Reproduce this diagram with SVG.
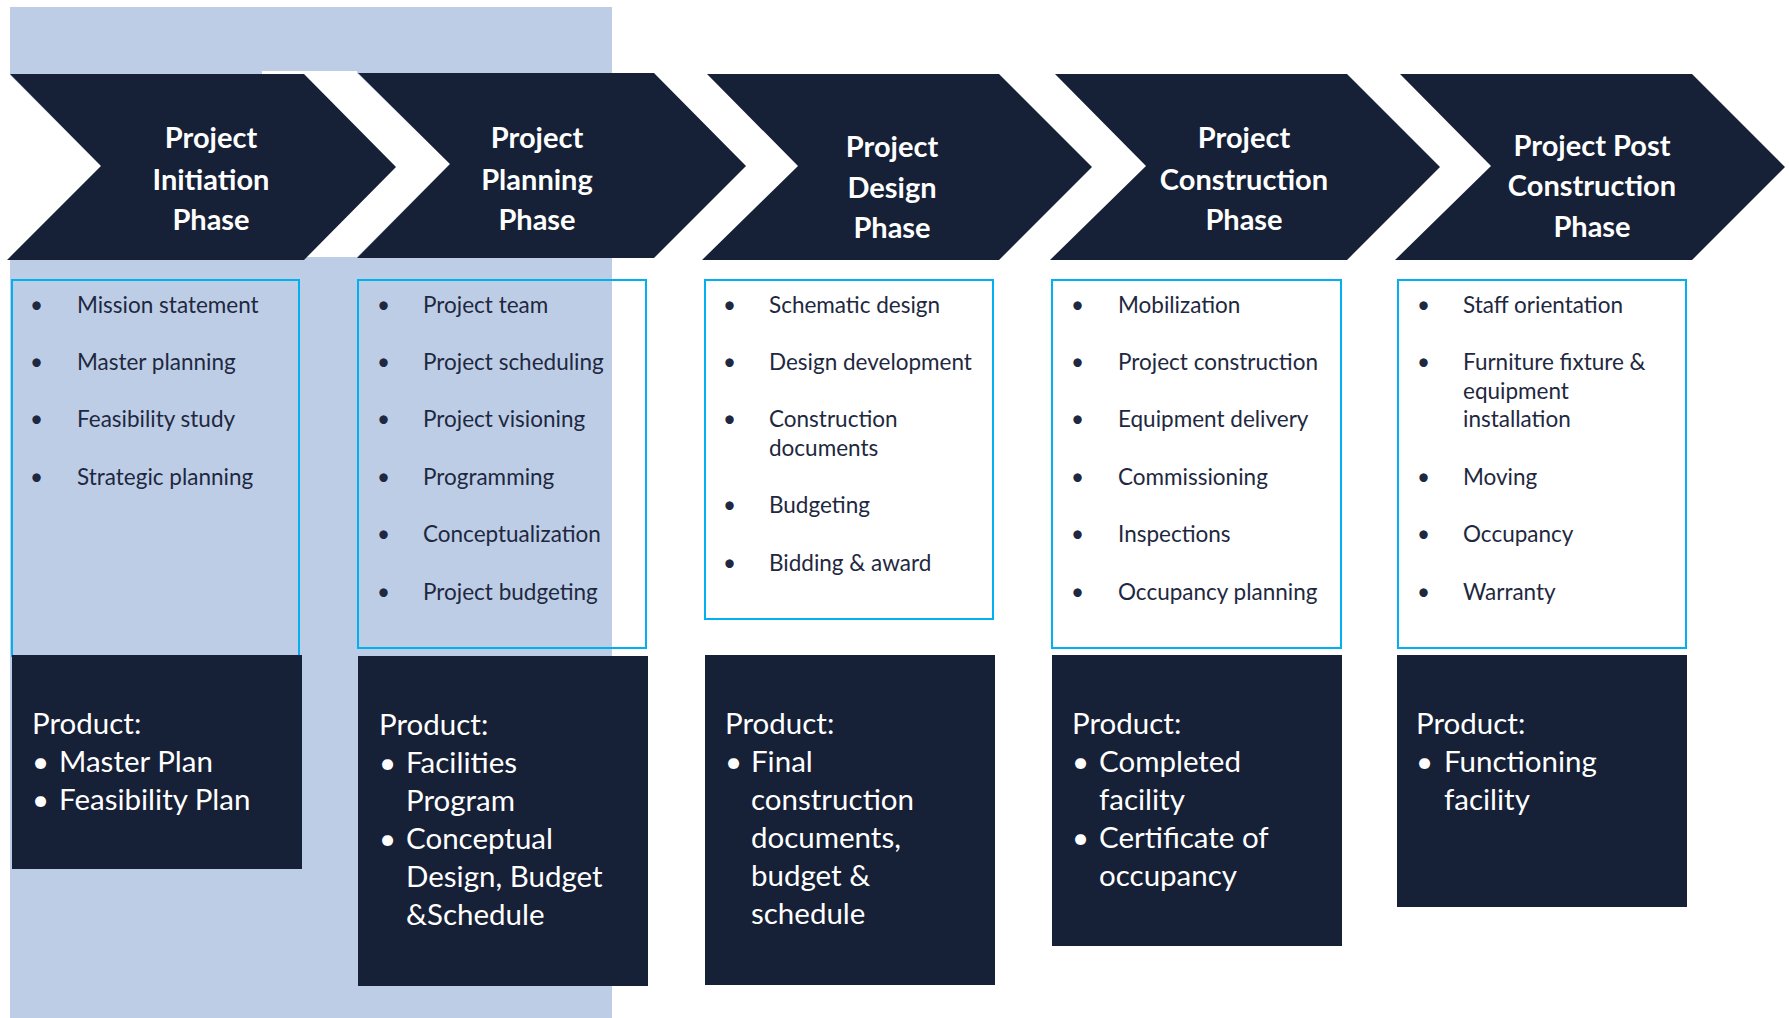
<svg xmlns="http://www.w3.org/2000/svg" width="1789" height="1018" viewBox="0 0 1789 1018">
<style>
.chev{fill:#162036}
.title{font-family:Lato,"Open Sans",sans-serif;font-weight:bold;font-size:29px;fill:#ffffff;text-anchor:middle}
.lbox{fill:none;stroke:#00B0F0;stroke-width:2}
.item{font-family:Lato,"Open Sans",sans-serif;font-size:22.5px;fill:#1E2840}
.pbox{fill:#162036}
.prod{font-family:Lato,"Open Sans",sans-serif;font-size:29.5px;fill:#ffffff}
.gap{fill:#ffffff}
</style>
<rect x="10" y="7" width="602" height="1011" fill="#BDCDE6"/>
<rect class="gap" x="262" y="71" width="95" height="186"/>
<polygon class="gap" points="9,74 101,166 7,260"/>
<polygon class="gap" points="356,72 450,164 356,258"/>
<g id="connectors"></g>

<g id="phase1">
<polygon class="chev" points="10,74 304,74 396,167 304,260 7,260 101,166"/>
<text class="title" x="211" y="148">Project</text>
<text class="title" x="211" y="190">Initiation</text>
<text class="title" x="211" y="230">Phase</text>
</g>
<g id="phase2">
<polygon class="chev" points="358,73 654,73 746,166 654,258 357,258 450,164"/>
<text class="title" x="537" y="148">Project</text>
<text class="title" x="537" y="190">Planning</text>
<text class="title" x="537" y="230">Phase</text>
</g>
<g id="phase3">
<polygon class="chev" points="707,74 999,74 1092,167 999,260 702,260 798,166"/>
<text class="title" x="892" y="157">Project</text>
<text class="title" x="892" y="198">Design</text>
<text class="title" x="892" y="238">Phase</text>
</g>
<g id="phase4">
<polygon class="chev" points="1055,74 1347,74 1440,167 1347,260 1050,260 1146,166"/>
<text class="title" x="1244" y="148">Project</text>
<text class="title" x="1244" y="190">Construction</text>
<text class="title" x="1244" y="230">Phase</text>
</g>
<g id="phase5">
<polygon class="chev" points="1400,74 1692,74 1785,167 1692,260 1395,260 1491,166"/>
<text class="title" x="1592" y="156">Project Post</text>
<text class="title" x="1592" y="196">Construction</text>
<text class="title" x="1592" y="237">Phase</text>
</g>

<g id="tasks1">
<rect class="lbox" x="12" y="280" width="287" height="376"/>
<text class="item" x="30" y="313">•</text><text class="item" x="77" y="313">Mission statement</text>
<text class="item" x="30" y="370">•</text><text class="item" x="77" y="370">Master planning</text>
<text class="item" x="30" y="427">•</text><text class="item" x="77" y="427">Feasibility study</text>
<text class="item" x="30" y="485">•</text><text class="item" x="77" y="485">Strategic planning</text>
</g>
<g id="tasks2">
<rect class="lbox" x="358" y="280" width="288" height="368"/>
<text class="item" x="377" y="313">•</text><text class="item" x="423" y="313">Project team</text>
<text class="item" x="377" y="370">•</text><text class="item" x="423" y="370">Project scheduling</text>
<text class="item" x="377" y="427">•</text><text class="item" x="423" y="427">Project visioning</text>
<text class="item" x="377" y="485">•</text><text class="item" x="423" y="485">Programming</text>
<text class="item" x="377" y="542">•</text><text class="item" x="423" y="542">Conceptualization</text>
<text class="item" x="377" y="600">•</text><text class="item" x="423" y="600">Project budgeting</text>
</g>
<g id="tasks3">
<rect class="lbox" x="705" y="280" width="288" height="339"/>
<text class="item" x="723" y="313">•</text><text class="item" x="769" y="313">Schematic design</text>
<text class="item" x="723" y="370">•</text><text class="item" x="769" y="370">Design development</text>
<text class="item" x="723" y="427">•</text><text class="item" x="769" y="427">Construction</text>
<text class="item" x="769" y="455.5">documents</text>
<text class="item" x="723" y="513">•</text><text class="item" x="769" y="513">Budgeting</text>
<text class="item" x="723" y="571">•</text><text class="item" x="769" y="571">Bidding &amp; award</text>
</g>
<g id="tasks4">
<rect class="lbox" x="1052" y="280" width="289" height="368"/>
<text class="item" x="1071" y="313">•</text><text class="item" x="1118" y="313">Mobilization</text>
<text class="item" x="1071" y="370">•</text><text class="item" x="1118" y="370">Project construction</text>
<text class="item" x="1071" y="427">•</text><text class="item" x="1118" y="427">Equipment delivery</text>
<text class="item" x="1071" y="485">•</text><text class="item" x="1118" y="485">Commissioning</text>
<text class="item" x="1071" y="542">•</text><text class="item" x="1118" y="542">Inspections</text>
<text class="item" x="1071" y="600">•</text><text class="item" x="1118" y="600">Occupancy planning</text>
</g>
<g id="tasks5">
<rect class="lbox" x="1398" y="280" width="288" height="368"/>
<text class="item" x="1417" y="313">•</text><text class="item" x="1463" y="313">Staff orientation</text>
<text class="item" x="1417" y="370">•</text><text class="item" x="1463" y="370">Furniture fixture &amp;</text>
<text class="item" x="1463" y="398.5">equipment</text>
<text class="item" x="1463" y="427">installation</text>
<text class="item" x="1417" y="485">•</text><text class="item" x="1463" y="485">Moving</text>
<text class="item" x="1417" y="542">•</text><text class="item" x="1463" y="542">Occupancy</text>
<text class="item" x="1417" y="600">•</text><text class="item" x="1463" y="600">Warranty</text>
</g>

<g id="product1">
<rect class="pbox" x="12" y="655" width="290" height="214"/>
<text class="prod" x="32" y="734">Product:</text>
<text class="prod" x="32" y="772">•</text><text class="prod" x="59" y="772">Master Plan</text>
<text class="prod" x="32" y="810">•</text><text class="prod" x="59" y="810">Feasibility Plan</text>
</g>
<g id="product2">
<rect class="pbox" x="358" y="656" width="290" height="330"/>
<text class="prod" x="379" y="735">Product:</text>
<text class="prod" x="379" y="773">•</text><text class="prod" x="406" y="773">Facilities</text>
<text class="prod" x="406" y="811">Program</text>
<text class="prod" x="379" y="849">•</text><text class="prod" x="406" y="849">Conceptual</text>
<text class="prod" x="406" y="887">Design, Budget</text>
<text class="prod" x="406" y="925">&amp;Schedule</text>
</g>
<g id="product3">
<rect class="pbox" x="705" y="655" width="290" height="330"/>
<text class="prod" x="725" y="734">Product:</text>
<text class="prod" x="725" y="772">•</text><text class="prod" x="751" y="772">Final</text>
<text class="prod" x="751" y="810">construction</text>
<text class="prod" x="751" y="848">documents,</text>
<text class="prod" x="751" y="886">budget &amp;</text>
<text class="prod" x="751" y="924">schedule</text>
</g>
<g id="product4">
<rect class="pbox" x="1052" y="655" width="290" height="291"/>
<text class="prod" x="1072" y="734">Product:</text>
<text class="prod" x="1072" y="772">•</text><text class="prod" x="1099" y="772">Completed</text>
<text class="prod" x="1099" y="810">facility</text>
<text class="prod" x="1072" y="848">•</text><text class="prod" x="1099" y="848">Certificate of</text>
<text class="prod" x="1099" y="886">occupancy</text>
</g>
<g id="product5">
<rect class="pbox" x="1397" y="655" width="290" height="252"/>
<text class="prod" x="1416" y="734">Product:</text>
<text class="prod" x="1416" y="772">•</text><text class="prod" x="1444" y="772">Functioning</text>
<text class="prod" x="1444" y="810">facility</text>
</g>
</svg>
